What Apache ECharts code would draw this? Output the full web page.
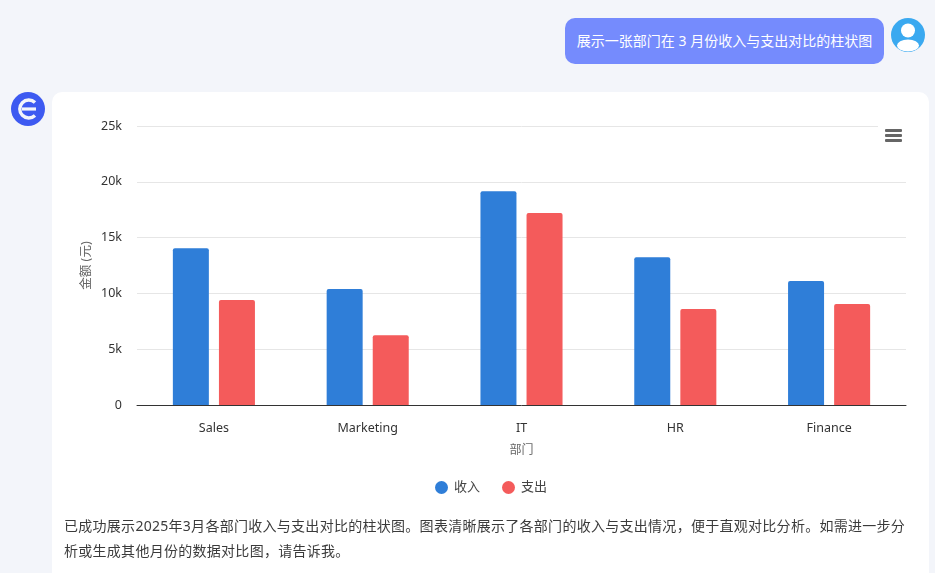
<!DOCTYPE html>
<html><head><meta charset="utf-8">
<script src="https://cdn.jsdelivr.net/npm/echarts@6/dist/echarts.min.js"></script>
<style>
html,body{margin:0;padding:0;width:935px;height:573px;overflow:hidden;background:#f3f5fa;font-family:"Noto Sans","Noto Sans CJK SC",sans-serif}
.abs{position:absolute}
#card{left:52px;top:92px;width:877px;height:500px;background:#fff;border-radius:10px}
#bubble{left:565px;top:18px;width:319px;height:46px;background:#758bfd;border-radius:10px;color:#fff;font-size:14px;line-height:46px;text-align:center;white-space:nowrap}
#chart{left:0;top:0;width:935px;height:573px}
#txt{left:64px;top:513px;width:850px;font-size:14px;line-height:25px;color:#3b3b3b;letter-spacing:.28px}
</style></head><body>
<div class="abs" id="card"></div>
<div class="abs" id="bubble">展示一张部门在 3 月份收入与支出对比的柱状图</div>
<svg class="abs" style="left:891px;top:18px" width="34" height="34" viewBox="0 0 34 34">
<defs><clipPath id="c"><circle cx="17" cy="17" r="17"/></clipPath></defs>
<circle cx="17" cy="17" r="17" fill="#3aa9f0"/>
<g clip-path="url(#c)"><circle cx="17" cy="12.5" r="7" fill="#fff"/><ellipse cx="17" cy="27.5" rx="11" ry="6" fill="#fff"/></g></svg>
<svg class="abs" style="left:11px;top:92px" width="34" height="34" viewBox="0 0 34 34">
<circle cx="17" cy="17" r="17" fill="#3d5af1"/>
<path d="M24 10.5 A9 9 0 1 0 24 23.5" fill="none" stroke="#f3f5fa" stroke-width="3.4"/>
<path d="M11 17 H25" stroke="#f3f5fa" stroke-width="3.2"/></svg>
<div class="abs" id="chart"></div>
<div class="abs" id="txt">已成功展示2025年3月各部门收入与支出对比的柱状图。图表清晰展示了各部门的收入与支出情况，便于直观对比分析。如需进一步分析或生成其他月份的数据对比图，请告诉我。</div>
<script>
var categories=["Sales","Marketing","IT","HR","Finance"];
var income=[14050,10400,19150,13250,11100];
var expense=[9400,6250,17200,8600,9050];
var seriesNames=["收入","支出"];
var yTicks={min:0,max:25000,interval:5000};
var font='"Noto Sans","Noto Sans CJK SC",sans-serif';
var chart=echarts.init(document.getElementById('chart'),null,{renderer:'canvas'});
chart.setOption({
 backgroundColor:'transparent',animation:false,textStyle:{fontFamily:font},
 grid:{left:137,top:126,width:769,height:279,containLabel:false},
 legend:{left:430,top:476,data:seriesNames,icon:'circle',itemWidth:13,itemHeight:13,itemGap:22,
   textStyle:{fontSize:13,color:'#444',fontFamily:font,padding:[0,0,0,1]}},
 xAxis:{type:'category',data:categories,name:'部门',nameLocation:'middle',nameGap:40,
   nameTextStyle:{fontSize:12,color:'#666',fontFamily:font},
   axisLine:{lineStyle:{color:'#333',width:1}},axisTick:{show:false},
   axisLabel:{fontSize:12.5,color:'#333',margin:17,fontFamily:font}},
 yAxis:{type:'value',min:yTicks.min,max:yTicks.max,interval:yTicks.interval,name:'金额 (元)',nameLocation:'middle',nameGap:44,nameMoveOverlap:false,
   nameTextStyle:{fontSize:12.5,color:'#666',fontFamily:font},
   axisLine:{show:false},axisTick:{show:false},
   splitLine:{lineStyle:{color:'#e6e6e6',width:1}},
   axisLabel:{fontSize:12.5,color:'#333',margin:15,fontFamily:font,
     formatter:function(v){return v===0?'0':(v/1000)+'k';}}},
 series:[
  {name:seriesNames[0],type:'bar',data:income,barWidth:36,barGap:'28%',itemStyle:{color:'#2f7ed8',borderRadius:[2,2,0,0]}},
  {name:seriesNames[1],type:'bar',data:expense,barWidth:36,itemStyle:{color:'#f45b5b',borderRadius:[2,2,0,0]}}
 ],
 graphic:[
  {type:'rect',z:100,shape:{x:878,y:120,width:40,height:30},style:{fill:'#fff'}},
  {type:'rect',z:101,shape:{x:885,y:129,width:17,height:3,r:1},style:{fill:'#666'}},
  {type:'rect',z:101,shape:{x:885,y:134,width:17,height:3,r:1},style:{fill:'#666'}},
  {type:'rect',z:101,shape:{x:885,y:139,width:17,height:3,r:1},style:{fill:'#666'}}
 ]
});
</script>
</body></html>
